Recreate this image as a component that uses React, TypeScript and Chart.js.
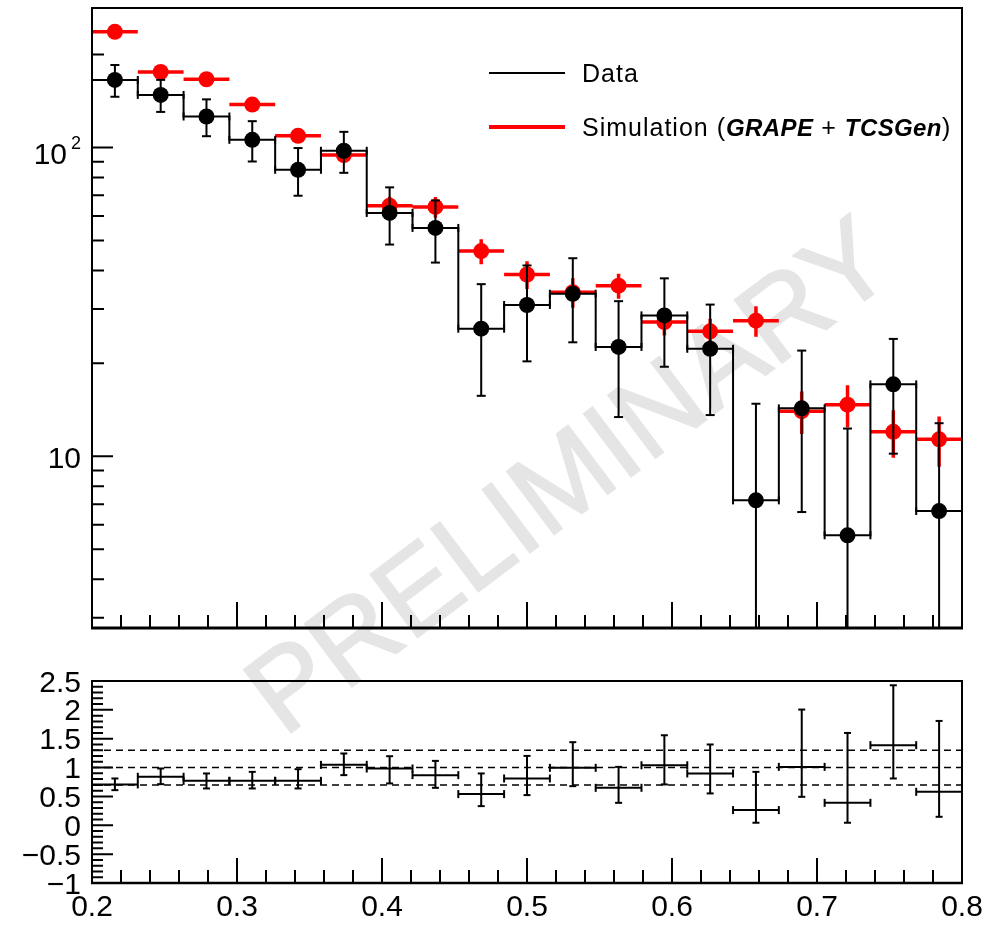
import React, { useEffect, useRef } from "react";
import { Chart, registerables } from "chart.js";

Chart.register(...registerables);

// ---------------- data ----------------
const binCenters = [
  0.21579, 0.24737, 0.27895, 0.31053, 0.34211, 0.37368, 0.40526, 0.43684, 0.46842, 0.5,
  0.53158, 0.56316, 0.59474, 0.62632, 0.65789, 0.68947, 0.72105, 0.75263, 0.78421,
];
const binHalfWidth = 0.015789;

const dataValues = [
  165.5, 148, 126, 105.9, 84.7, 97.6, 61.4, 54.9, 25.9, 30.9,
  33.6, 22.6, 28.6, 22.3, 7.2, 14.3, 5.55, 17.1, 6.65,
];
const dataErrors = [
  19.5, 17.6, 17.2, 15.8, 14.9, 14.8, 12.9, 12.5, 10.2, 10.6,
  10.2, 9.2, 9.1, 8.7, 7.6, 7.7, 6.75, 6.9, 6.15,
];
const simValues = [
  237, 175.6, 166.4, 137.7, 109.1, 94.5, 64.8, 64.2, 46.2, 38.8,
  34.0, 35.7, 27.2, 25.4, 27.5, 14.0, 14.7, 12.0, 11.35,
];
const simErrors = [
  7, 6, 6, 5, 4.5, 4.3, 4.5, 4.9, 4.3, 4.0,
  3.7, 3.3, 2.6, 2.5, 3.1, 2.2, 2.3, 2.1, 2.1,
];

const ratioValues = [
  0.708, 0.84, 0.77, 0.77, 0.77, 1.047, 0.984, 0.869, 0.54, 0.811,
  0.995, 0.649, 1.04, 0.898, 0.263, 1.012, 0.389, 1.388, 0.58,
];
const ratioErrUp = [
  0.103, 0.144, 0.128, 0.156, 0.202, 0.197, 0.213, 0.247, 0.358, 0.391,
  0.445, 0.363, 0.52, 0.502, 0.663, 0.993, 1.211, 1.038, 1.228,
];
const ratioErrDown = [
  0.099, 0.127, 0.132, 0.132, 0.132, 0.178, 0.259, 0.22, 0.208, 0.288,
  0.317, 0.26, 0.332, 0.346, 0.219, 0.519, 0.345, 0.577, 0.433,
];
const ratioRefLines = [0.7, 1.0, 1.3];

const xRange = [0.2, 0.8];
const xMajorTicks = [0.2, 0.3, 0.4, 0.5, 0.6, 0.7, 0.8];
const xMinorTicks: number[] = [];
for (let k = 0; k <= 30; k++) if (k % 5 !== 0) xMinorTicks.push(Math.round((0.2 + k * 0.02) * 100) / 100);

const topYRange = [2.78, 283];
const topYMajorTicks = [10, 100];
const topYMinorTicks = [3, 4, 5, 6, 7, 8, 9, 20, 30, 40, 50, 60, 70, 80, 90, 200];

const ratioYRange = [-1, 2.5];
const ratioYMajorTicks = [-1, -0.5, 0, 0.5, 1, 1.5, 2, 2.5];
const ratioYMinorTicks: number[] = [];
for (let k = 0; k <= 35; k++) if (k % 5 !== 0) ratioYMinorTicks.push(Math.round((-1 + k * 0.1) * 10) / 10);

const legendLabels = [
  { color: "#000000", lineWidth: 2, parts: [{ text: "Data", bold: false }] },
  {
    color: "#ff0000",
    lineWidth: 4,
    parts: [
      { text: "Simulation (", bold: false },
      { text: "GRAPE", bold: true },
      { text: " + ", bold: false },
      { text: "TCSGen", bold: true },
      { text: ")", bold: false },
    ],
  },
];

const watermarkText = "PRELIMINARY";

// ---------------- helpers ----------------
const FONT = "'Liberation Sans', Arial, Helvetica, sans-serif";

function verticalBars(vals: number[], lo: number[], hi: number[], floor: number | null) {
  const out: any[] = [];
  binCenters.forEach((c, i) => {
    let low = vals[i] - lo[i];
    if (floor !== null && low < floor) low = floor;
    out.push({ x: c, y: low }, { x: c, y: vals[i] + hi[i] }, { x: c, y: null });
  });
  return out;
}
function horizontalBars(vals: number[]) {
  const out: any[] = [];
  binCenters.forEach((c, i) => {
    out.push({ x: c - binHalfWidth, y: vals[i] }, { x: c + binHalfWidth, y: vals[i] }, { x: c, y: null });
  });
  return out;
}
function edgeCaps(vals: number[]) {
  const out: any[] = [];
  binCenters.forEach((c, i) => {
    out.push({ x: c - binHalfWidth, y: vals[i] }, { x: c + binHalfWidth, y: vals[i] });
  });
  return out;
}
function histStep(vals: number[]) {
  const out: any[] = [{ x: xRange[0], y: vals[0] }];
  binCenters.forEach((c, i) => out.push({ x: c, y: vals[i] }));
  out.push({ x: xRange[1], y: vals[vals.length - 1] });
  return out;
}
function markers(vals: number[]) {
  return binCenters.map((c, i) => ({ x: c, y: vals[i] }));
}

type AxesCfg = {
  name: string;
  yMajor: number[];
  yMinor: number[];
  yMajorLen: number;
  yMinorLen: number;
  xMajorLen: number;
  xMinorLen: number;
  xAxisWidth: number;
  drawYLabels: (ctx: CanvasRenderingContext2D, chart: any) => void;
  drawXLabels?: (ctx: CanvasRenderingContext2D, chart: any) => void;
  drawExtra?: (ctx: CanvasRenderingContext2D, chart: any) => void;
};

function makeAxesPlugin(cfg: AxesCfg) {
  return {
    id: "rootAxes_" + cfg.name,
    afterDraw(chart: any) {
      const ctx: CanvasRenderingContext2D = chart.ctx;
      const a = chart.chartArea;
      const xs = chart.scales.x;
      const ys = chart.scales.y;
      ctx.save();
      ctx.strokeStyle = "#000";
      ctx.lineWidth = 2;
      ctx.beginPath();
      xMajorTicks.forEach((v) => {
        const p = xs.getPixelForValue(v);
        ctx.moveTo(p, a.bottom);
        ctx.lineTo(p, a.bottom - cfg.xMajorLen);
      });
      xMinorTicks.forEach((v) => {
        const p = xs.getPixelForValue(v);
        ctx.moveTo(p, a.bottom);
        ctx.lineTo(p, a.bottom - cfg.xMinorLen);
      });
      cfg.yMajor.forEach((v) => {
        const p = ys.getPixelForValue(v);
        ctx.moveTo(a.left, p);
        ctx.lineTo(a.left + cfg.yMajorLen, p);
      });
      cfg.yMinor.forEach((v) => {
        const p = ys.getPixelForValue(v);
        ctx.moveTo(a.left, p);
        ctx.lineTo(a.left + cfg.yMinorLen, p);
      });
      ctx.stroke();
      ctx.strokeRect(a.left, a.top, a.right - a.left, a.bottom - a.top);
      ctx.lineWidth = cfg.xAxisWidth;
      ctx.beginPath();
      ctx.moveTo(a.left - 1, a.bottom);
      ctx.lineTo(a.right + 1, a.bottom);
      ctx.stroke();
      ctx.fillStyle = "#000";
      cfg.drawYLabels(ctx, chart);
      if (cfg.drawXLabels) cfg.drawXLabels(ctx, chart);
      if (cfg.drawExtra) cfg.drawExtra(ctx, chart);
      ctx.restore();
    },
  };
}

function drawLegend(ctx: CanvasRenderingContext2D, chart: any) {
  const a = chart.chartArea;
  const lineX0 = a.left + 397;
  const lineX1 = a.left + 473;
  const textX = a.left + 490;
  const rows = [a.top + 65, a.top + 119];
  legendLabels.forEach((item, i) => {
    const y = rows[i];
    ctx.strokeStyle = item.color;
    ctx.lineWidth = item.lineWidth;
    ctx.beginPath();
    ctx.moveTo(lineX0, y);
    ctx.lineTo(lineX1, y);
    ctx.stroke();
    let x = textX;
    ctx.fillStyle = "#000";
    ctx.textAlign = "left";
    ctx.textBaseline = "alphabetic";
    item.parts.forEach((p) => {
      ctx.font = p.bold ? `italic bold 24px ${FONT}` : `25px ${FONT}`;
      (ctx as any).letterSpacing = p.bold ? "0.4px" : "1px";
      ctx.fillText(p.text, x, y + 9);
      x += ctx.measureText(p.text).width;
    });
    (ctx as any).letterSpacing = "0px";
  });
}

const topAxesPlugin = makeAxesPlugin({
  name: "top",
  yMajor: topYMajorTicks,
  yMinor: topYMinorTicks,
  yMajorLen: 21,
  yMinorLen: 12,
  xMajorLen: 26,
  xMinorLen: 13,
  xAxisWidth: 3,
  drawYLabels(ctx, chart) {
    const ys = chart.scales.y;
    const a = chart.chartArea;
    topYMajorTicks.forEach((v) => {
      const p = ys.getPixelForValue(v);
      const exp = Math.round(Math.log10(v));
      ctx.textBaseline = "alphabetic";
      if (exp === 1) {
        ctx.font = `30px ${FONT}`;
        ctx.textAlign = "right";
        ctx.fillText("10", a.left - 11, p + 11.5);
      } else {
        ctx.font = `30px ${FONT}`;
        ctx.textAlign = "right";
        ctx.fillText("10", a.left - 25, p + 16);
        ctx.font = `18px ${FONT}`;
        ctx.textAlign = "left";
        ctx.fillText(String(exp), a.left - 21, p + 1.5);
      }
    });
  },
  drawExtra: drawLegend,
});

const fmtNum = (v: number) => String(v).replace("-", "\u2212");

const bottomAxesPlugin = makeAxesPlugin({
  name: "bottom",
  yMajor: ratioYMajorTicks,
  yMinor: ratioYMinorTicks,
  yMajorLen: 21,
  yMinorLen: 11,
  xMajorLen: 25,
  xMinorLen: 13,
  xAxisWidth: 2.5,
  drawYLabels(ctx, chart) {
    const ys = chart.scales.y;
    const a = chart.chartArea;
    ctx.font = `30px ${FONT}`;
    ctx.textAlign = "right";
    ctx.textBaseline = "alphabetic";
    ratioYMajorTicks.forEach((v) => {
      const p = ys.getPixelForValue(v);
      ctx.fillText(fmtNum(v), a.left - 11, p + 10.5);
    });
  },
  drawXLabels(ctx, chart) {
    const xs = chart.scales.x;
    const a = chart.chartArea;
    ctx.font = `30px ${FONT}`;
    ctx.textAlign = "center";
    ctx.textBaseline = "alphabetic";
    xMajorTicks.forEach((v) => {
      const p = xs.getPixelForValue(v);
      ctx.fillText(v.toFixed(1), p, a.bottom + 33);
    });
  },
});

function topConfig(): any {
  return {
    type: "line",
    data: {
      datasets: [
        {
          label: "Data markers",
          data: markers(dataValues),
          showLine: false,
          pointStyle: "circle",
          pointRadius: 8,
          pointBackgroundColor: "#000",
          pointBorderWidth: 0,
          order: 0,
        },
        {
          label: "Data y errors",
          data: verticalBars(dataValues, dataErrors, dataErrors, 1e-3),
          borderColor: "#000",
          borderWidth: 2,
          spanGaps: false,
          pointStyle: "line",
          pointRadius: 4.5,
          pointBorderWidth: 2,
          pointBorderColor: "#000",
          order: 1,
        },
        {
          label: "Data x caps",
          data: edgeCaps(dataValues),
          showLine: false,
          pointStyle: "line",
          pointRotation: 90,
          pointRadius: 4,
          pointBorderWidth: 2,
          pointBorderColor: "#000",
          order: 1,
        },
        {
          label: "Data",
          data: histStep(dataValues),
          stepped: "middle",
          borderColor: "#000",
          borderWidth: 2,
          pointRadius: 0,
          order: 2,
        },
        {
          label: "Simulation markers",
          data: markers(simValues),
          showLine: false,
          pointStyle: "circle",
          pointRadius: 8,
          pointBackgroundColor: "#ff0000",
          pointBorderWidth: 0,
          order: 3,
        },
        {
          label: "Simulation y errors",
          data: verticalBars(simValues, simErrors, simErrors, 1e-3),
          borderColor: "#ff0000",
          borderWidth: 3.5,
          spanGaps: false,
          pointRadius: 0,
          order: 4,
        },
        {
          label: "Simulation",
          data: horizontalBars(simValues),
          borderColor: "#ff0000",
          borderWidth: 3.5,
          spanGaps: false,
          pointRadius: 0,
          order: 4,
        },
      ],
    },
    options: {
      responsive: false,
      animation: false,
      events: [],
      layout: { padding: { left: 92, right: 42, top: 7, bottom: 12 } },
      scales: {
        x: { type: "linear", min: xRange[0], max: xRange[1], display: false },
        y: { type: "logarithmic", min: topYRange[0], max: topYRange[1], display: false },
      },
      plugins: { legend: { display: false }, tooltip: { enabled: false } },
    },
    plugins: [topAxesPlugin],
  };
}

function refLineData() {
  const out: any[] = [];
  ratioRefLines.forEach((r) => {
    out.push({ x: xRange[0], y: r }, { x: xRange[1], y: r }, { x: xRange[1], y: null });
  });
  return out;
}

function bottomConfig(): any {
  return {
    type: "line",
    data: {
      datasets: [
        {
          label: "Ratio y errors",
          data: verticalBars(ratioValues, ratioErrDown, ratioErrUp, null),
          borderColor: "#000",
          borderWidth: 2,
          spanGaps: false,
          pointStyle: "line",
          pointRadius: 3.5,
          pointBorderWidth: 2,
          pointBorderColor: "#000",
          order: 0,
        },
        {
          label: "Ratio x errors",
          data: horizontalBars(ratioValues),
          borderColor: "#000",
          borderWidth: 2,
          spanGaps: false,
          pointRadius: 0,
          order: 0,
        },
        {
          label: "Ratio x caps",
          data: edgeCaps(ratioValues),
          showLine: false,
          pointStyle: "line",
          pointRotation: 90,
          pointRadius: 4,
          pointBorderWidth: 2,
          pointBorderColor: "#000",
          order: 0,
        },
        {
          label: "Reference lines",
          data: refLineData(),
          borderColor: "#000",
          borderWidth: 1.5,
          borderDash: [7, 5],
          spanGaps: false,
          pointRadius: 0,
          order: 5,
        },
      ],
    },
    options: {
      responsive: false,
      animation: false,
      events: [],
      layout: { padding: { left: 92, right: 42, top: 41, bottom: 42 } },
      scales: {
        x: { type: "linear", min: xRange[0], max: xRange[1], display: false },
        y: { type: "linear", min: ratioYRange[0], max: ratioYRange[1], display: false },
      },
      plugins: { legend: { display: false }, tooltip: { enabled: false } },
    },
    plugins: [bottomAxesPlugin],
  };
}

export default function App() {
  const topRef = useRef<HTMLCanvasElement>(null);
  const botRef = useRef<HTMLCanvasElement>(null);

  useEffect(() => {
    const c1 = new Chart(topRef.current as HTMLCanvasElement, topConfig());
    const c2 = new Chart(botRef.current as HTMLCanvasElement, bottomConfig());
    return () => {
      c1.destroy();
      c2.destroy();
    };
  }, []);

  return (
    <div
      style={{
        position: "fixed",
        left: 0,
        top: 0,
        width: 1004,
        height: 925,
        background: "#ffffff",
        overflow: "hidden",
      }}
    >
      <div style={{ position: "absolute", left: 568, top: 475, zIndex: 0 }}>
        <div
          style={{
            position: "absolute",
            left: 0,
            top: 0,
            transform: "translate(-50%, -50%) rotate(-37deg)",
            fontFamily: FONT,
            fontSize: 114,
            fontWeight: "normal",
            lineHeight: 1,
            color: "#e5e5e5",
            WebkitTextStroke: "2px #e5e5e5",
            whiteSpace: "nowrap",
          } as any}
        >
          {watermarkText}
        </div>
      </div>
      <canvas
        ref={topRef}
        width={1004}
        height={640}
        style={{ position: "absolute", left: 0, top: 0, zIndex: 1 }}
      />
      <canvas
        ref={botRef}
        width={1004}
        height={285}
        style={{ position: "absolute", left: 0, top: 640, zIndex: 1 }}
      />
    </div>
  );
}
